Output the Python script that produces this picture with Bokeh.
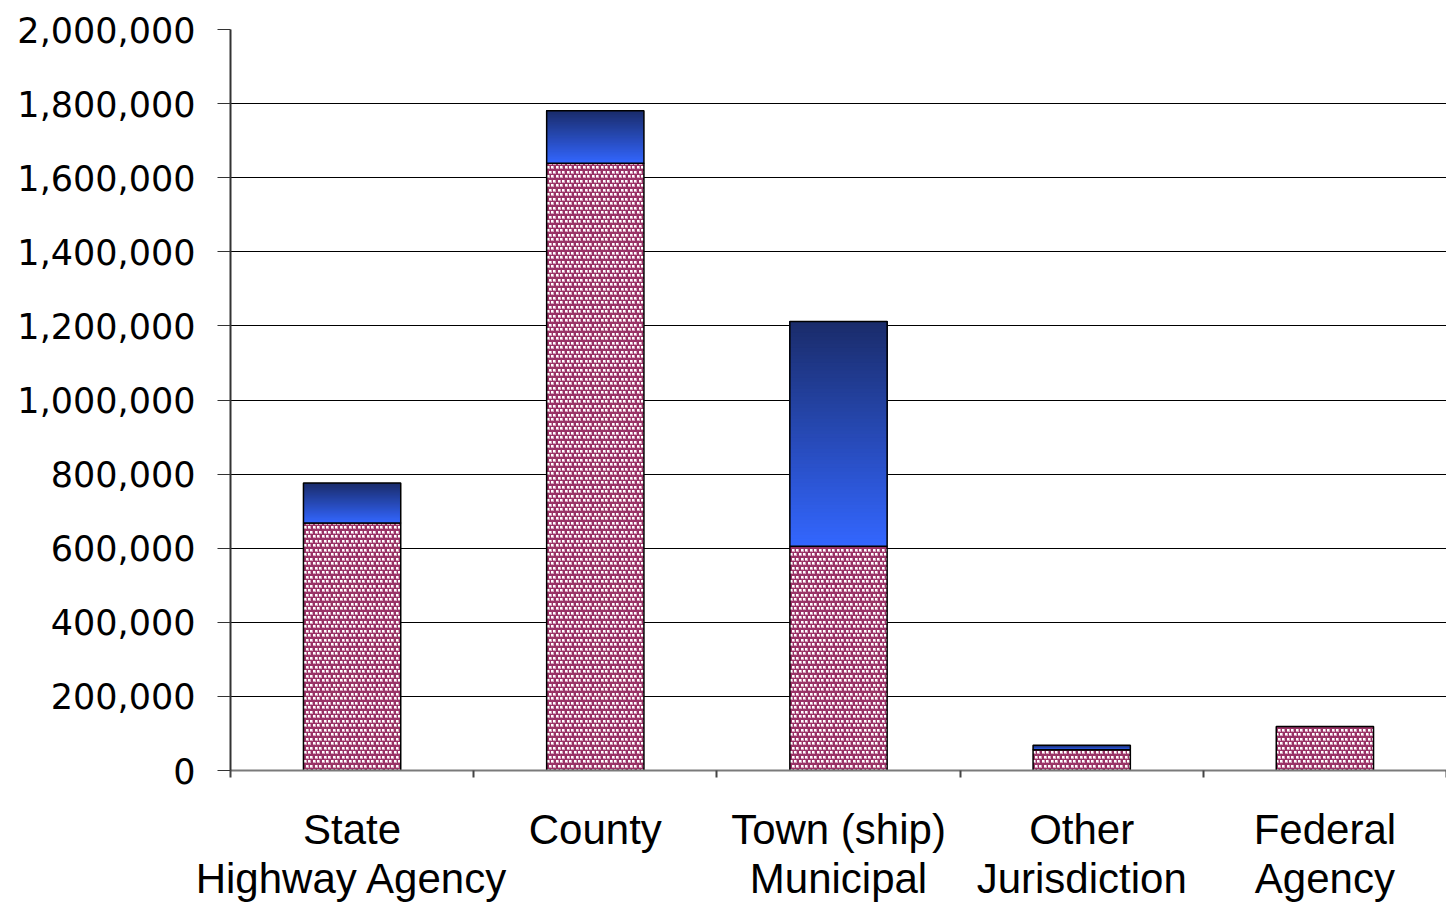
import base64
import struct
import zlib

import numpy as np
from bokeh.core.properties import value
from bokeh.plotting import figure
from bokeh.models import (Range1d, LinearAxis, FixedTicker, NumeralTickFormatter,
                          Grid, ImageURLTexture)
from bokeh.embed import file_html
from bokeh.resources import INLINE

# Jurisdiction categories and their axis labels
categories = ["State Highway Agency", "County", "Town (ship) Municipal",
              "Other Jurisdiction", "Federal Agency"]
tick_labels = ["State\nHighway Agency", "County", "Town (ship)\nMunicipal",
               "Other\nJurisdiction", "Federal\nAgency"]

# Stacked series: lower (patterned) and upper (blue) segments
lower_values = [668000, 1639000, 605000, 56000, 119000]
upper_values = [108000, 142000, 607000, 12000, 0]

Y_MAX = 2_000_000
y_ticks = list(range(0, Y_MAX + 1, 200_000))

n = len(categories)
centers = [i + 0.5 for i in range(n)]
boundaries = list(range(n + 1))


def png_data_url(grid):
    """Encode a small RGB tile (list of rows of (r, g, b)) as a PNG data URL."""
    h, w = len(grid), len(grid[0])
    raw = b"".join(b"\x00" + bytes(c for px in row for c in px) for row in grid)

    def chunk(tag, data):
        return (struct.pack(">I", len(data)) + tag + data +
                struct.pack(">I", zlib.crc32(tag + data) & 0xffffffff))

    png = (b"\x89PNG\r\n\x1a\n" +
           chunk(b"IHDR", struct.pack(">IIBBBBB", w, h, 8, 2, 0, 0, 0)) +
           chunk(b"IDAT", zlib.compress(raw)) +
           chunk(b"IEND", b""))
    return "data:image/png;base64," + base64.b64encode(png).decode()


# staggered white-square texture on maroon
MAROON = (0x99, 0x33, 0x66)
WHITE = (0xff, 0xff, 0xff)
SOFT = (0xd6, 0xa3, 0xbc)
TILE = 9
tile = [[MAROON] * TILE for _ in range(TILE)]
for (sy, sx) in [(0, 0), (0, 4), (4, 2), (4, 7)]:
    for dy in range(3):
        for dx in range(3):
            yy, xx = (sy + dy) % TILE, (sx + dx) % TILE
            tile[yy][xx] = WHITE if (dy < 2 and dx < 2) else SOFT
dot_texture = ImageURLTexture(url=png_data_url(tile), repetition="repeat")

p = figure(width=1446, height=904,
           x_range=Range1d(0, n), y_range=Range1d(0, Y_MAX),
           x_axis_type=None, y_axis_type=None,
           output_backend="svg", toolbar_location=None,
           min_border_left=230, min_border_right=0,
           min_border_top=29, min_border_bottom=134)
p.outline_line_color = None
p.background_fill_color = "white"
p.border_fill_color = "white"

# horizontal gridlines
p.add_layout(Grid(dimension=1, ticker=FixedTicker(ticks=y_ticks[1:-1]),
                  grid_line_color="black", grid_line_width=1))
p.add_layout(Grid(dimension=1, ticker=FixedTicker(ticks=[Y_MAX]),
                  grid_line_color="#8a8a8a", grid_line_width=2))

BAR_W = 0.4

# lower segments: maroon with white square texture
p.vbar(x=centers, width=BAR_W, bottom=0, top=lower_values,
       fill_color="#993366",
       hatch_pattern=value("squares"), hatch_extra={"squares": dot_texture},
       line_color="black", line_width=1.5)

# upper segments: vertical gradient, each slice runs to the segment top so
# later (darker) slices overlay earlier ones without gaps
dark = np.array([0x1a, 0x2c, 0x6a])
bright = np.array([0x33, 0x66, 0xff])
SLICES = 60
gx, gb, gt, gc = [], [], [], []
for x, lo, up in zip(centers, lower_values, upper_values):
    if up <= 0:
        continue
    edges = np.linspace(lo, lo + up, SLICES + 1)
    for k in range(SLICES):
        t = (k + 0.5) / SLICES
        c = bright * (1 - t) + dark * t
        gx.append(x)
        gb.append(edges[k])
        gt.append(lo + up)
        gc.append("#%02x%02x%02x" % tuple(int(round(v)) for v in c))
p.vbar(x=gx, width=BAR_W, bottom=gb, top=gt, fill_color=gc, line_color=None)

ux = [x for x, u in zip(centers, upper_values) if u > 0]
ub = [lo for lo, u in zip(lower_values, upper_values) if u > 0]
ut = [lo + u for lo, u in zip(lower_values, upper_values) if u > 0]
p.vbar(x=ux, width=BAR_W, bottom=ub, top=ut, fill_color=None,
       line_color="black", line_width=1.5)

# y axis
yaxis = LinearAxis(ticker=FixedTicker(ticks=y_ticks),
                   formatter=NumeralTickFormatter(format="0,0"),
                   major_tick_in=0, major_tick_out=13,
                   minor_tick_line_color=None,
                   major_tick_line_color="#333333",
                   axis_line_color="#333333", axis_line_width=2,
                   major_label_text_font="DejaVu Sans",
                   major_label_text_font_size="35px",
                   major_label_text_color="black",
                   major_label_standoff=22)
p.add_layout(yaxis, "left")

# x axis: labels centred on bars, short ticks between categories
xaxis = LinearAxis(ticker=FixedTicker(ticks=centers, minor_ticks=boundaries),
                   major_label_overrides={c: lab for c, lab in zip(centers, tick_labels)},
                   major_tick_in=0, major_tick_out=0,
                   minor_tick_in=0, minor_tick_out=7,
                   minor_tick_line_color="#444444", minor_tick_line_width=2,
                   axis_line_color="#7a7a7a", axis_line_width=2,
                   major_label_text_font="Liberation Sans",
                   major_label_text_font_size="42px",
                   major_label_text_color="black",
                   major_label_text_line_height=1.05,
                   major_label_standoff=28)
p.add_layout(xaxis, "below")

open("out.html", "w").write(file_html(p, INLINE))
